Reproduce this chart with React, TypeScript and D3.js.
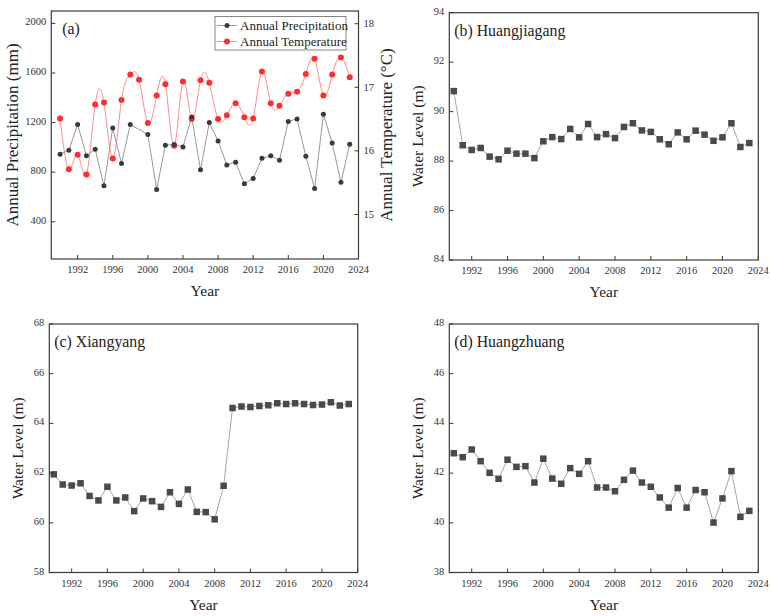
import React from "react";
import * as d3 from "d3";

const years = [1990, 1991, 1992, 1993, 1994, 1995, 1996, 1997, 1998, 1999, 2000, 2001, 2002, 2003, 2004, 2005, 2006, 2007, 2008, 2009, 2010, 2011, 2012, 2013, 2014, 2015, 2016, 2017, 2018, 2019, 2020, 2021, 2022, 2023];

// 1999 has no precipitation point in the figure
const precipitation = [945, 978, 1185, 932, 985, 690, 1157, 870, 1185, null, 1104, 661, 1018, 1023, 1004, 1246, 819, 1200, 1052, 859, 881, 706, 750, 913, 932, 897, 1209, 1230, 929, 669, 1267, 1036, 718, 1026];
const temperature = [16.51, 15.71, 15.94, 15.63, 16.73, 16.76, 15.88, 16.8, 17.2, 17.12, 16.44, 16.87, 17.05, 16.08, 17.09, 16.5, 17.11, 17.07, 16.5, 16.56, 16.75, 16.53, 16.51, 17.25, 16.75, 16.71, 16.9, 16.93, 17.21, 17.45, 16.87, 17.2, 17.47, 17.16];

const huangjiagang = [90.83, 88.64, 88.45, 88.53, 88.18, 88.07, 88.42, 88.3, 88.3, 88.12, 88.8, 88.97, 88.89, 89.3, 88.96, 89.5, 88.97, 89.09, 88.93, 89.38, 89.53, 89.24, 89.18, 88.88, 88.68, 89.16, 88.88, 89.23, 89.07, 88.82, 88.96, 89.53, 88.57, 88.73];
const xiangyang = [61.95, 61.54, 61.5, 61.59, 61.08, 60.9, 61.45, 60.9, 61.02, 60.47, 60.98, 60.87, 60.64, 61.23, 60.76, 61.34, 60.44, 60.43, 60.14, 61.49, 64.62, 64.68, 64.66, 64.7, 64.73, 64.81, 64.78, 64.81, 64.78, 64.74, 64.76, 64.85, 64.72, 64.78];
const huangzhuang = [42.8, 42.64, 42.95, 42.48, 42.01, 41.77, 42.54, 42.25, 42.28, 41.62, 42.58, 41.78, 41.57, 42.2, 41.97, 42.48, 41.42, 41.42, 41.27, 41.73, 42.1, 41.62, 41.45, 41.02, 40.61, 41.4, 40.61, 41.32, 41.23, 40.01, 40.98, 42.08, 40.24, 40.48];

const yearTicks = [1992, 1996, 2000, 2004, 2008, 2012, 2016, 2020, 2024];
const precipTicks = [400, 800, 1200, 1600, 2000];
const tempTicks = [15, 16, 17, 18];
const ticksB = [84, 86, 88, 90, 92, 94];
const ticksC = [58, 60, 62, 64, 66, 68];
const ticksD = [38, 40, 42, 44, 46, 48];

const FONT = "'Liberation Serif', 'Times New Roman', serif";
const AXIS = "#3a3a3a";
const TICK_TEXT = "#333";

type Box = { left: number; right: number; top: number; bottom: number };

function Frame({ box, x, y, yTicks, yLabel, title, titleSize, titleDx, yLabelX }: any) {
  return (
    <g>
      <rect x={box.left} y={box.top} width={box.right - box.left} height={box.bottom - box.top}
        fill="none" stroke={AXIS} strokeWidth={1.2} />
      {yearTicks.map(t => (
        <g key={"x" + t}>
          <line x1={x(t)} x2={x(t)} y1={box.bottom} y2={box.bottom - 4} stroke={AXIS} strokeWidth={1} />
          <text x={x(t)} y={box.bottom + 14} textAnchor="middle" fontSize={10.5} fill={TICK_TEXT}>{t}</text>
        </g>
      ))}
      {yTicks.map((t: number) => (
        <g key={"y" + t}>
          <line x1={box.left} x2={box.left + 4} y1={y(t)} y2={y(t)} stroke={AXIS} strokeWidth={1} />
          <text x={box.left - 5} y={y(t) + 2} textAnchor="end" fontSize={10.5} fill={TICK_TEXT}>{t}</text>
        </g>
      ))}
      <text x={(box.left + box.right) / 2} y={box.bottom + 37} textAnchor="middle" fontSize={15.5} fill="#222">Year</text>
      <text transform={`translate(${yLabelX},${(box.top + box.bottom) / 2}) rotate(-90)`} textAnchor="middle"
        fontSize={yLabel.size} fill="#222">{yLabel.text}</text>
      <text x={box.left + titleDx} y={box.top + 23} fontSize={titleSize} fill="#222">{title}</text>
    </g>
  );
}

function LevelPanel({ box, domain, ticks, values, title }: any) {
  const x = d3.scaleLinear().domain([1989.5, 2024]).range([box.left, box.right]);
  const y = d3.scaleLinear().domain(domain).range([box.bottom, box.top]);
  const pts = years.map((yr, i) => ({ yr, v: values[i] }));
  const line = d3.line<any>().x(d => x(d.yr)).y(d => y(d.v));
  const s = 6.5;
  return (
    <g>
      <path d={line(pts) || ""} fill="none" stroke="#a6a6a6" strokeWidth={1} />
      {pts.map(p => (
        <rect key={p.yr} x={x(p.yr) - s / 2} y={y(p.v) - s / 2} width={s} height={s} fill="#4a4a4a" />
      ))}
      <Frame box={box} x={x} y={y} yTicks={ticks} title={title} titleSize={15.8} titleDx={5}
        yLabel={{ text: "Water Level (m)", size: 15.5 }} yLabelX={box.left - 26} />
    </g>
  );
}

function ClimatePanel() {
  const box: Box = { left: 51.3, right: 358.5, top: 11, bottom: 259 };
  const x = d3.scaleLinear().domain([1989, 2024]).range([box.left, box.right]);
  const yP = d3.scaleLinear().domain([100, 2100]).range([box.bottom, box.top]);
  const yT = d3.scaleLinear().domain([14.3, 18.2]).range([box.bottom, box.top]);

  const pPts = years.map((yr, i) => ({ yr, v: precipitation[i] })).filter(d => d.v !== null) as { yr: number; v: number }[];
  const tPts = years.map((yr, i) => ({ yr, v: temperature[i] }));

  const pLine = d3.line<any>().x(d => x(d.yr)).y(d => yP(d.v));
  const tLine = d3.line<any>().x(d => x(d.yr)).y(d => yT(d.v)).curve(d3.curveNatural);

  const lg = { x: 215, y: 16.5, w: 131, h: 33.5 };
  return (
    <g>
      <path d={tLine(tPts) || ""} fill="none" stroke="#ff8a8a" strokeWidth={1} />
      <path d={pLine(pPts) || ""} fill="none" stroke="#8c8c8c" strokeWidth={0.9} />
      {tPts.map(p => <circle key={"t" + p.yr} cx={x(p.yr)} cy={yT(p.v)} r={3} fill="#ff2e2e" />)}
      {pPts.map(p => <circle key={"p" + p.yr} cx={x(p.yr)} cy={yP(p.v)} r={2.5} fill="#3a3a3a" />)}

      <Frame box={box} x={x} y={yP} yTicks={precipTicks} title="(a)" titleSize={15.8} titleDx={11}
        yLabel={{ text: "Annual Precipitation (mm)", size: 17 }} yLabelX={18} />

      {tempTicks.map(t => (
        <g key={"r" + t}>
          <line x1={box.right} x2={box.right - 4} y1={yT(t)} y2={yT(t)} stroke={AXIS} strokeWidth={1} />
          <text x={box.right + 5} y={yT(t) + 3.5} fontSize={10.5} fill={TICK_TEXT}>{t}</text>
        </g>
      ))}
      <text transform={`translate(392,${(box.top + box.bottom) / 2}) rotate(-90)`} textAnchor="middle"
        fontSize={17} fill="#222">Annual Temperature (°C)</text>

      <rect x={lg.x} y={lg.y} width={lg.w} height={lg.h} fill="#fff" stroke="#666" strokeWidth={0.8} />
      <line x1={lg.x + 2} x2={lg.x + 22} y1={lg.y + 9} y2={lg.y + 9} stroke="#8c8c8c" strokeWidth={0.9} />
      <circle cx={lg.x + 12} cy={lg.y + 9} r={2.5} fill="#3a3a3a" />
      <text x={lg.x + 25} y={lg.y + 13.5} fontSize={13} fill="#222">Annual Precipitation</text>
      <line x1={lg.x + 2} x2={lg.x + 22} y1={lg.y + 25} y2={lg.y + 25} stroke="#ff8a8a" strokeWidth={1} />
      <circle cx={lg.x + 12} cy={lg.y + 25} r={3} fill="#ff2e2e" />
      <text x={lg.x + 25} y={lg.y + 29.5} fontSize={13} fill="#222">Annual Temperature</text>
    </g>
  );
}

export default function App() {
  return (
    <svg width={772} height={616} style={{ position: "absolute", left: 0, top: 0, background: "#fff" }}
      fontFamily={FONT}>
      <rect width={772} height={616} fill="#fff" />
      <ClimatePanel />
      <LevelPanel box={{ left: 449.3, right: 758.3, top: 12.7, bottom: 260 }} domain={[84, 94]} ticks={ticksB}
        values={huangjiagang} title="(b) Huangjiagang" />
      <LevelPanel box={{ left: 49.3, right: 357.7, top: 324, bottom: 572.5 }} domain={[58, 68]} ticks={ticksC}
        values={xiangyang} title="(c) Xiangyang" />
      <LevelPanel box={{ left: 449.3, right: 758.3, top: 324, bottom: 572.5 }} domain={[38, 48]} ticks={ticksD}
        values={huangzhuang} title="(d) Huangzhuang" />
    </svg>
  );
}
